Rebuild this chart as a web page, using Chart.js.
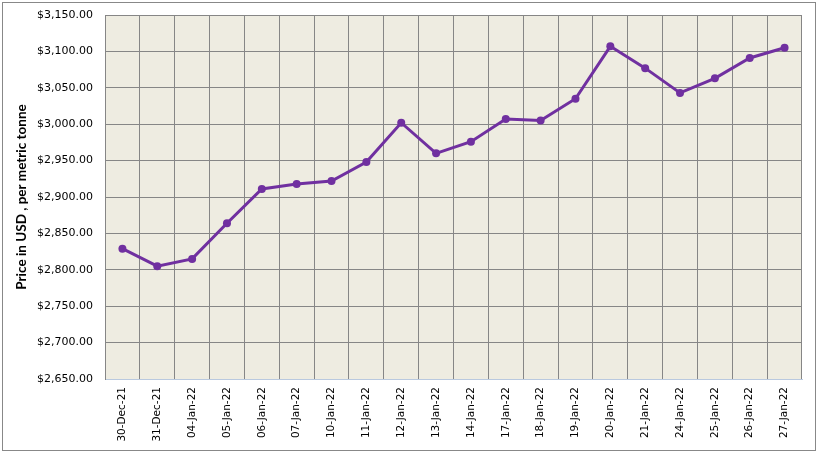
<!DOCTYPE html>
<html><head><meta charset="utf-8">
<script src="https://cdn.jsdelivr.net/npm/chart.js@4"></script>
<style>html,body{margin:0;padding:0;background:#fff;}#wrap{width:818px;height:453px;position:relative;}</style>
</head><body><div id="wrap"><canvas id="c"></canvas></div>
<script>
const categories = ["30-Dec-21","31-Dec-21","04-Jan-22","05-Jan-22","06-Jan-22","07-Jan-22","10-Jan-22","11-Jan-22","12-Jan-22","13-Jan-22","14-Jan-22","17-Jan-22","18-Jan-22","19-Jan-22","20-Jan-22","21-Jan-22","24-Jan-22","25-Jan-22","26-Jan-22","27-Jan-22"];
const prices = [2829,2805,2815,2864,2911,2918,2922,2948,3002,2960,2976,3007,3005,3035,3107,3077,3043,3063,3091,3105];
const yMin = 2650, yMax = 3150, yStep = 50;
const yTitle = "Price in USD , per metric tonne";

const bgPlugin = {
  id: 'bg',
  beforeDraw(chart) {
    const {ctx, chartArea: a} = chart;
    ctx.save();
    ctx.fillStyle = '#EEECE1';
    ctx.fillRect(a.left, a.top, a.right - a.left, a.bottom - a.top);
    ctx.restore();
  },
  afterDraw(chart) {
    const ctx = chart.ctx;
    ctx.save();
    ctx.strokeStyle = '#888888';
    ctx.lineWidth = 1;
    ctx.strokeRect(2.5, 2.5, 813, 448);
    ctx.restore();
  }
};

new Chart(document.getElementById('c'), {
  type: 'line',
  data: {
    labels: categories,
    datasets: [{
      data: prices,
      borderColor: '#7030A0',
      backgroundColor: '#7030A0',
      borderWidth: 3,
      pointRadius: 4,
      pointBorderWidth: 0,
      pointBackgroundColor: '#7030A0',
      tension: 0
    }]
  },
  options: {
    responsive: true,
    maintainAspectRatio: false,
    animation: false,
    layout: { padding: { left: 14, right: 16, top: 15, bottom: 0 } },
    plugins: { legend: { display: false }, tooltip: { enabled: false } },
    scales: {
      x: {
        offset: true,
        grid: { offset: true, color: '#868686', lineWidth: 1, drawTicks: false },
        border: { color: '#B9C9DF', width: 1 },
        ticks: {
          minRotation: 90, maxRotation: 90, padding: 8, autoSkip: false,
          color: '#000', font: { family: 'DejaVu Sans', size: 10.5 }
        },
        afterFit(scale) { scale.height = 74; }
      },
      y: {
        min: yMin, max: yMax,
        grid: { color: '#868686', lineWidth: 1, drawTicks: false },
        border: { color: '#868686', width: 1 },
        ticks: {
          stepSize: yStep, padding: 12, color: '#000',
          font: { family: 'DejaVu Sans', size: 11 },
          callback: v => '$' + Number(v).toLocaleString('en-US', {minimumFractionDigits: 2, maximumFractionDigits: 2})
        },
        title: {
          display: true, text: yTitle, color: '#000',
          font: { family: 'Lato', size: 13.5, weight: 'bold' }, padding: { top: 0, bottom: 4 }
        },
        afterFit(scale) { scale.width = 91; scale.paddingTop = 7; scale.paddingBottom = 7; }
      }
    }
  },
  plugins: [bgPlugin]
});
</script></body></html>
